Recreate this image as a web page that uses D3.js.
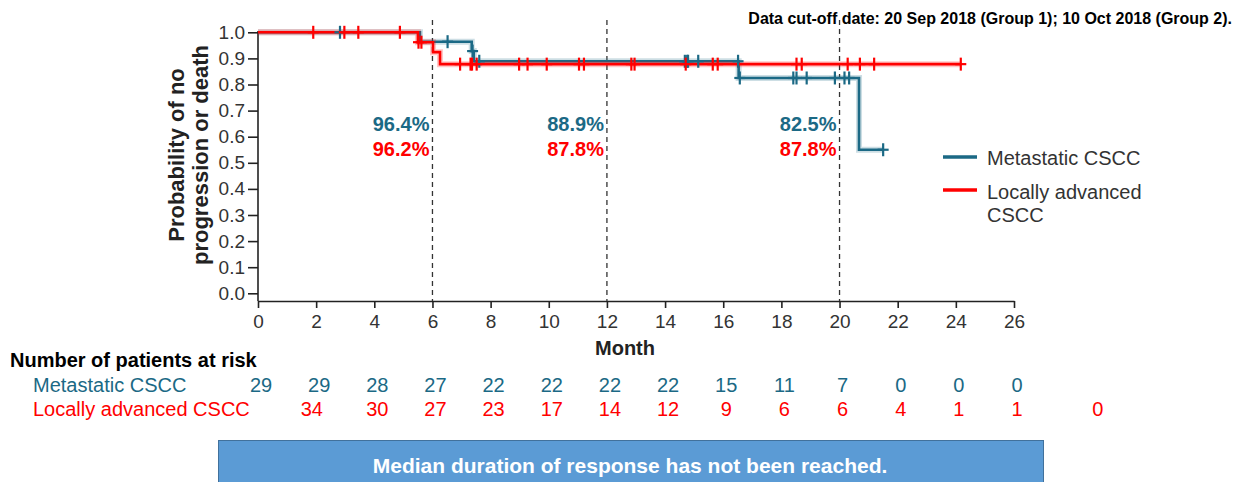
<!DOCTYPE html>
<html>
<head>
<meta charset="utf-8">
<script src="https://cdn.jsdelivr.net/npm/d3@7"></script>
<style>
  body { margin: 0; background: #fff; }
  svg { font-family: "Liberation Sans", Arial, sans-serif; }
</style>
</head>
<body>
<svg id="chart" width="1241" height="482"></svg>
<script>
// ---- data ----
const monthTicks = d3.range(0, 27, 2);
const probTicks = d3.range(0, 11).map(i => i / 10);
const landmarks = [6, 12, 20];
const metLandmarkLabels = ["96.4%", "88.9%", "82.5%"];
const laLandmarkLabels = ["96.2%", "87.8%", "87.8%"];

// Kaplan-Meier steps: [month, probability]
const metSteps = [[0, 1], [5.57, 0.964], [7.35, 0.928], [7.42, 0.889], [16.53, 0.825], [20.67, 0.55], [21.5, 0.55]];
const laSteps = [[0, 1], [5.5, 0.962], [6.02, 0.924], [6.26, 0.878], [24.17, 0.878]];

// censored observations (months)
const metCensor = [2.82, 6.52, 7.38, 7.61, 14.68, 14.76, 14.79, 15.14, 16.51, 16.57,
  18.41, 18.52, 18.87, 19.84, 20.17, 20.33, 21.5];
const laCensor = [1.9, 2.97, 3.45, 4.88, 5.52, 5.62, 6.95, 7.31, 7.36, 7.52, 8.98, 9.27,
  9.93, 11.04, 11.21, 12.84, 12.95, 14.71, 15.64, 15.81, 18.52, 18.7, 20.28, 20.7, 21.19, 24.17];

// number at risk
const riskMonthsMet = d3.range(0, 27, 2);
const riskMet = [29, 29, 28, 27, 22, 22, 22, 22, 15, 11, 7, 0, 0, 0];
const riskMonthsLA = [1.75, 4, 6, 8, 10, 12, 14, 16, 18, 20, 22, 24, 26, 28.78];
const riskLA = [34, 30, 27, 23, 17, 14, 12, 9, 6, 6, 4, 1, 1, 0];

const BLUE = "#1b6985";
const RED = "#ff0000";

const svg = d3.select("#chart");

const x = d3.scaleLinear().domain([0, 26]).range([258, 1014]);
const y = d3.scaleLinear().domain([0, 1]).range([293.3, 32.3]);
const axisY = 301;

// survival value at time t (right-continuous step)
function survAt(steps, t) {
  let s = steps[0][1];
  steps.forEach(d => { if (d[0] <= t) s = d[1]; });
  return s;
}

// title
svg.append("text")
  .attr("x", 1232).attr("y", 24)
  .attr("text-anchor", "end")
  .style("font-weight", "bold").style("font-size", "16px")
  .text("Data cut-off date: 20 Sep 2018 (Group 1); 10 Oct 2018 (Group 2).");

// axes
const gy = svg.append("g")
  .attr("transform", `translate(${x(0)},0)`)
  .call(d3.axisLeft(y).tickValues(probTicks).tickFormat(d3.format(".1f")).tickSize(10).tickPadding(3));
gy.select(".domain").remove();
svg.append("line")
  .attr("x1", x(0)).attr("x2", x(0))
  .attr("y1", 31).attr("y2", axisY)
  .attr("stroke", "#222").attr("stroke-width", 1.6);

const gx = svg.append("g")
  .attr("transform", `translate(0,${axisY})`)
  .call(d3.axisBottom(x).tickValues(monthTicks).tickSize(7).tickSizeOuter(0).tickPadding(7));

[gx, gy].forEach(g => {
  g.selectAll("line, path").attr("stroke", "#222").attr("stroke-width", 1.6);
  g.selectAll("text").attr("fill", "#333").style("font-size", "19px");
});

// axis titles
svg.append("text")
  .attr("x", 625).attr("y", 355)
  .attr("text-anchor", "middle")
  .style("font-weight", "bold").style("font-size", "20px").attr("fill", "#222")
  .text("Month");

[["Probability of no", 184], ["progression or death", 208]].forEach(([t, xx]) => {
  svg.append("text")
    .attr("transform", `translate(${xx},155) rotate(-90)`)
    .attr("text-anchor", "middle")
    .style("font-weight", "bold").style("font-size", "22px").attr("fill", "#222")
    .text(t);
});

// landmark dashed lines
svg.selectAll(".landmark")
  .data(landmarks)
  .join("line")
  .attr("class", "landmark")
  .attr("x1", d => x(d)).attr("x2", d => x(d))
  .attr("y1", 20).attr("y2", axisY)
  .attr("stroke", "#333").attr("stroke-width", 1.3)
  .attr("stroke-dasharray", "5,4");

// curves
const stepLine = d3.line()
  .x(d => x(d[0]))
  .y(d => y(d[1]))
  .curve(d3.curveStepAfter);

function drawCurve(steps, color) {
  svg.append("path").datum(steps)
    .attr("fill", "none").attr("stroke", color)
    .attr("stroke-opacity", 0.22).attr("stroke-width", 6)
    .attr("d", stepLine);
  svg.append("path").datum(steps)
    .attr("fill", "none").attr("stroke", color)
    .attr("stroke-width", 2.6)
    .attr("d", stepLine);
}

function drawCensor(times, steps, color) {
  const g = svg.append("g").attr("stroke", color).attr("stroke-width", 2.2);
  times.forEach(t => {
    const cx = x(t), cy = y(survAt(steps, t));
    g.append("line").attr("x1", cx).attr("x2", cx).attr("y1", cy - 6.5).attr("y2", cy + 6.5);
    g.append("line").attr("x1", cx - 5.5).attr("x2", cx + 5.5).attr("y1", cy).attr("y2", cy);
  });
}

drawCurve(metSteps, BLUE);
drawCurve(laSteps, RED);
drawCensor(metCensor, metSteps, BLUE);
drawCensor(laCensor, laSteps, RED);

// landmark percentages
landmarks.forEach((m, i) => {
  svg.append("text")
    .attr("x", x(m) - 3).attr("y", 131)
    .attr("text-anchor", "end")
    .style("font-weight", "bold").style("font-size", "20px").attr("fill", BLUE)
    .text(metLandmarkLabels[i]);
  svg.append("text")
    .attr("x", x(m) - 3).attr("y", 156)
    .attr("text-anchor", "end")
    .style("font-weight", "bold").style("font-size", "20px").attr("fill", RED)
    .text(laLandmarkLabels[i]);
});

// legend
const legend = svg.append("g");
legend.append("line")
  .attr("x1", 943).attr("x2", 977).attr("y1", 157).attr("y2", 157)
  .attr("stroke", BLUE).attr("stroke-width", 3.5);
legend.append("text")
  .attr("x", 987).attr("y", 164.5)
  .style("font-size", "20px").attr("fill", "#333")
  .text("Metastatic CSCC");
legend.append("line")
  .attr("x1", 943).attr("x2", 977).attr("y1", 190).attr("y2", 190)
  .attr("stroke", RED).attr("stroke-width", 3.5);
legend.append("text")
  .attr("x", 987).attr("y", 198.5)
  .style("font-size", "20px").attr("fill", "#333")
  .text("Locally advanced");
legend.append("text")
  .attr("x", 987).attr("y", 221.5)
  .style("font-size", "20px").attr("fill", "#333")
  .text("CSCC");

// number at risk table
svg.append("text")
  .attr("x", 10).attr("y", 367)
  .style("font-weight", "bold").style("font-size", "20px").attr("fill", "#000")
  .text("Number of patients at risk");
svg.append("text")
  .attr("x", 33).attr("y", 391.5)
  .style("font-size", "20px").attr("fill", BLUE)
  .text("Metastatic CSCC");
svg.append("text")
  .attr("x", 33).attr("y", 416)
  .style("font-size", "20px").attr("fill", RED)
  .text("Locally advanced CSCC");

svg.selectAll(".riskMet")
  .data(riskMet)
  .join("text")
  .attr("class", "riskMet")
  .attr("x", (d, i) => x(riskMonthsMet[i]) + 3).attr("y", 391.5)
  .attr("text-anchor", "middle")
  .style("font-size", "20px").attr("fill", BLUE)
  .text(d => d);

svg.selectAll(".riskLA")
  .data(riskLA)
  .join("text")
  .attr("class", "riskLA")
  .attr("x", (d, i) => x(riskMonthsLA[i]) + 3).attr("y", 416)
  .attr("text-anchor", "middle")
  .style("font-size", "20px").attr("fill", RED)
  .text(d => d);

// footer box
svg.append("rect")
  .attr("x", 218.5).attr("y", 440.5)
  .attr("width", 825).attr("height", 46)
  .attr("fill", "#5b9bd5").attr("stroke", "#41719c").attr("stroke-width", 1);
svg.append("text")
  .attr("x", 630).attr("y", 473)
  .attr("text-anchor", "middle")
  .style("font-weight", "bold").style("font-size", "21px").attr("fill", "#fff")
  .text("Median duration of response has not been reached.");
</script>
</body>
</html>
